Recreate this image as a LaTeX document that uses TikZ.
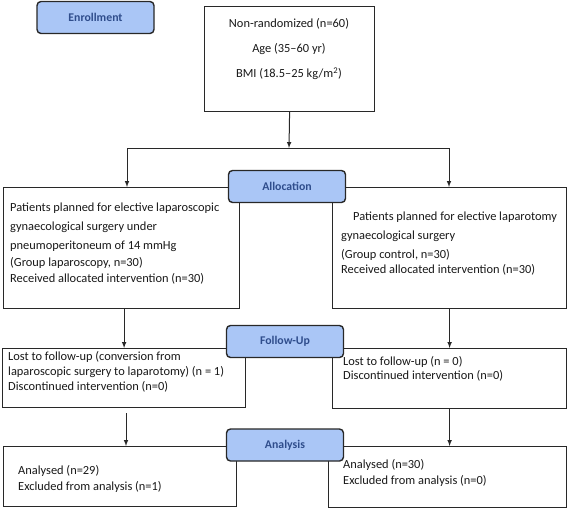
\documentclass[tikz,border=0pt]{standalone}
\usepackage{fontspec}
\setmainfont{Carlito}
\usepackage{xcolor}
\usepackage{tikz}

\definecolor{stagefill}{RGB}{170,198,246}
\definecolor{stagetext}{RGB}{47,77,140}
\definecolor{boxline}{RGB}{40,40,40}

\tikzset{
  stagebox/.style={draw=boxline, line width=1.4pt, fill=stagefill,
    rounded corners=4pt, text=stagetext, inner sep=0pt,
    font=\bfseries\fontsize{11.8}{13}\selectfont,
    minimum width=117pt, minimum height=32pt},
  flowbox/.style={draw=boxline, line width=1.2pt, fill=white,
    inner sep=0pt, anchor=north west},
  flowtext/.style={anchor=mid west, inner sep=0pt, text=black!90,
    font=\fontsize{12.4}{14}\selectfont},
  flowarrow/.style={draw=boxline, line width=1pt, -latex},
}

\begin{document}
\begin{tikzpicture}[x=1pt,y=-1pt]
  \useasboundingbox (0,0) rectangle (567,509);

  % ------- boxes -------
  \node[flowbox, minimum width=170pt, minimum height=105pt] (top) at (204,6) {};
  \node[flowbox, minimum width=236pt, minimum height=121pt] (la)  at (3,187) {};
  \node[flowbox, minimum width=234pt, minimum height=121pt] (ra)  at (332,187) {};
  \node[flowbox, minimum width=243pt, minimum height=59pt]  (lf)  at (2,348) {};
  \node[flowbox, minimum width=234pt, minimum height=60pt]  (rf)  at (332,348) {};
  \node[flowbox, minimum width=233pt, minimum height=60pt]  (lan) at (3,446) {};
  \node[flowbox, minimum width=238pt, minimum height=61pt]  (ran) at (328,446) {};

  % ------- texts, enrollment -------
  \node[flowtext, anchor=mid] (t1) at (289,25) {Non-randomized (n=60)};
  \node[flowtext, anchor=mid] (t2) at (289,50) {Age (35–60 yr)};
  \node[flowtext, anchor=mid] (t3) at (289,75) {BMI (18.5–25 kg/m\textsuperscript{2})};

  % ------- texts, allocation -------
  \node[flowtext] (la1) at (10,209) {Patients planned for elective laparoscopic};
  \node[flowtext] (la2) at (10,228) {gynaecological surgery under};
  \node[flowtext] (la3) at (10,247) {pneumoperitoneum of 14 mmHg};
  \node[flowtext] (la4) at (10,264) {(Group laparoscopy, n=30)};
  \node[flowtext] (la5) at (10,280) {Received allocated intervention (n=30)};

  \node[flowtext] (ra1) at (353,218) {Patients planned for elective laparotomy};
  \node[flowtext] (ra2) at (341,237) {gynaecological surgery};
  \node[flowtext] (ra3) at (341,256) {(Group control, n=30)};
  \node[flowtext] (ra4) at (341,271) {Received allocated intervention (n=30)};

  % ------- texts, follow-up -------
  \node[flowtext] (lf1) at (8,358) {Lost to follow-up (conversion from};
  \node[flowtext] (lf2) at (8,373) {laparoscopic surgery to laparotomy) (n = 1)};
  \node[flowtext] (lf3) at (8,388) {Discontinued intervention (n=0)};

  \node[flowtext] (rf1) at (343,363) {Lost to follow-up (n = 0)};
  \node[flowtext] (rf2) at (343,377) {Discontinued intervention (n=0)};

  % ------- texts, analysis -------
  \node[flowtext] (lan1) at (18,472) {Analysed (n=29)};
  \node[flowtext] (lan2) at (18,488) {Excluded from analysis (n=1)};

  \node[flowtext] (ran1) at (343,466) {Analysed (n=30)};
  \node[flowtext] (ran2) at (343,482) {Excluded from analysis (n=0)};

  % ------- connectors -------
  \coordinate (split)  at (289,148);
  \coordinate (splitL) at (127,148);
  \coordinate (splitR) at (449,148);
  \coordinate (gapL)   at (126,413);

  \draw[flowarrow] (top.south) -- (split);
  \draw[draw=boxline, line width=1pt] (splitL) -- (splitR);
  \draw[flowarrow] (splitL) -- (splitL |- la.north);
  \draw[flowarrow] (splitR) -- (splitR |- ra.north);
  \draw[flowarrow] (la.south -| lf.north) -- (lf.north);
  \draw[flowarrow] (ra.south) -- (rf.north);
  \draw[flowarrow] (gapL) -- (gapL |- lan.north);
  \draw[flowarrow] (rf.south) -- (rf.south |- ran.north);

  % ------- stage labels -------
  \node[stagebox] (enroll) at (95.5,17.5)  {Enrollment};
  \node[stagebox] (alloc)  at (287,186.5)  {Allocation};
  \node[stagebox] (follow) at (285,341.5)  {Follow-Up};
  \node[stagebox] (analys) at (285,445)    {Analysis};
\end{tikzpicture}
\end{document}
